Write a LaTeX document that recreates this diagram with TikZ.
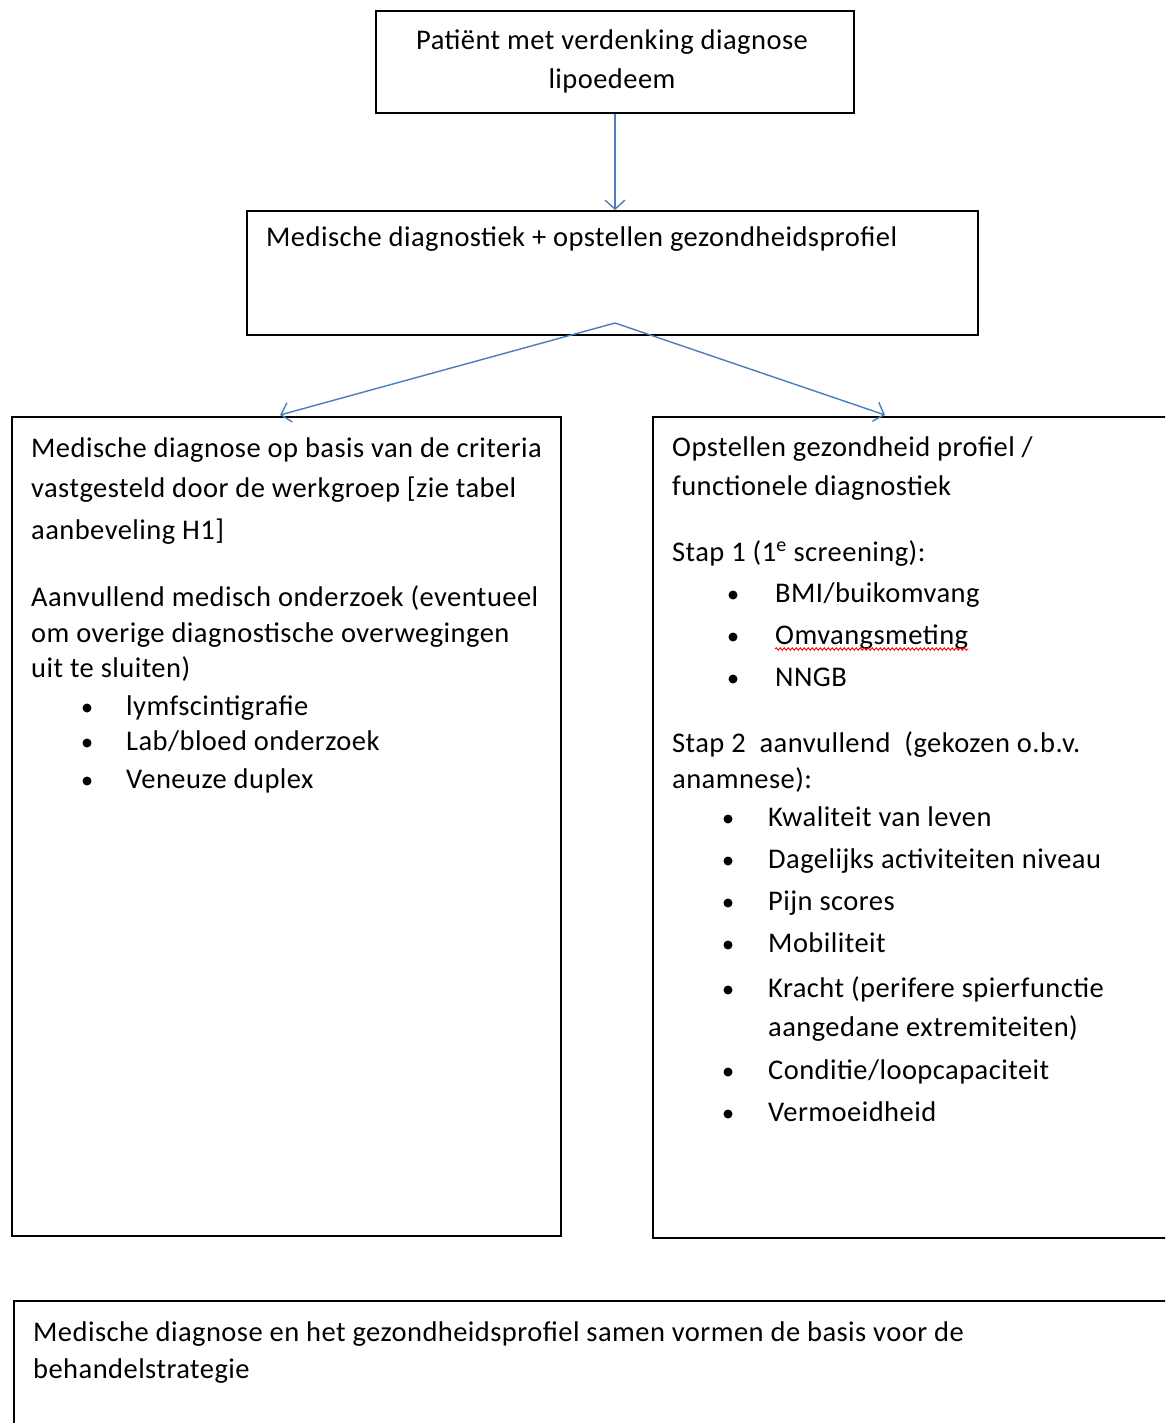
\documentclass[tikz,border=0pt]{standalone}
\usepackage{fontspec}
\setmainfont[LetterSpace=1.6]{Carlito}
\usetikzlibrary{arrows.meta,decorations.pathmorphing}
\definecolor{arrowblue}{HTML}{4A7EBB}
\begin{document}
\begin{tikzpicture}[x=1pt,y=-1pt,
  box/.style={draw=black,line width=1.8pt,inner sep=0pt,anchor=north west},
  txt/.style={anchor=base west,inner sep=0pt,font=\fontsize{28.5}{34}\selectfont},
  ctxt/.style={anchor=base,inner sep=0pt,font=\fontsize{28.5}{34}\selectfont},
  conn/.style={draw=arrowblue,line width=1.4pt,-{Straight Barb[length=9pt,width=20pt,line width=1.4pt]}},
  dot/.style={circle,fill=black,draw=none,inner sep=0pt,minimum size=9pt}
]
\useasboundingbox (0,0) rectangle (1165,1423);
\clip (0,0) rectangle (1165,1423);
\fill[white] (0,0) rectangle (1165,1423);

% boxes
\node[box,minimum width=478pt,minimum height=102pt] (start) at (375,10) {};
\node[box,minimum width=731pt,minimum height=124pt] (diag) at (246,210) {};
\node[box,minimum width=549pt,minimum height=819pt] (med) at (11,416) {};
\node[box,minimum width=600pt,minimum height=821pt] (prof) at (652,416) {};
\node[box,minimum width=1250pt,minimum height=250pt] (basis) at (13,1300) {};

% top box text
\node[ctxt] (s1) at (612,50) {Patiënt met verdenking diagnose};
\node[ctxt] (s2) at (612,89) {lipoedeem};

% second box text
\node[txt] (d1) at (266,247) {Medische diagnostiek + opstellen gezondheidsprofiel};

% left box text
\node[txt] (m1) at (31,457) {Medische diagnose op basis van de criteria};
\node[txt] (m2) at (31,497) {vastgesteld door de werkgroep [zie tabel};
\node[txt] (m3) at (31,539) {aanbeveling H1]};
\node[txt] (m4) at (31,606) {Aanvullend medisch onderzoek (eventueel};
\node[txt] (m5) at (31,642) {om overige diagnostische overwegingen};
\node[txt] (m6) at (31,677) {uit te sluiten)};
\node[dot] (mb1) at (87,708) {};
\node[txt] (ml1) at (126,715) {lymfscintigrafie};
\node[dot] (mb2) at (87,743) {};
\node[txt] (ml2) at (126,750) {Lab/bloed onderzoek};
\node[dot] (mb3) at (87,781) {};
\node[txt] (ml3) at (126,788) {Veneuze duplex};

% right box text
\node[txt] (p1) at (672,456) {Opstellen gezondheid profiel /};
\node[txt] (p2) at (672,495) {functionele diagnostiek};
\node[txt] (p3) at (672,561) {Stap 1 (1\textsuperscript{e} screening):};
\node[dot] (pb1) at (733,595) {};
\node[txt] (pl1) at (775,602) {BMI/buikomvang};
\node[dot] (pb2) at (733,637) {};
\node[txt] (pl2) at (775,644) {Omvangsmeting};
\draw[red,line width=0.9pt,decorate,decoration={snake,amplitude=1.2pt,segment length=4pt}]
  ([yshift=-5pt]pl2.base west) -- ([yshift=-5pt]pl2.base east);
\node[dot] (pb3) at (733,679) {};
\node[txt] (pl3) at (775,686) {NNGB};
\node[txt] (p4) at (672,752) {Stap 2\ \ aanvullend\ \ (gekozen o.b.v.};
\node[txt] (p5) at (672,788) {anamnese):};
\node[dot] (qb1) at (728,819) {};
\node[txt] (ql1) at (768,826) {Kwaliteit van leven};
\node[dot] (qb2) at (728,861) {};
\node[txt] (ql2) at (768,868) {Dagelijks activiteiten niveau};
\node[dot] (qb3) at (728,903) {};
\node[txt] (ql3) at (768,910) {Pijn scores};
\node[dot] (qb4) at (728,945) {};
\node[txt] (ql4) at (768,952) {Mobiliteit};
\node[dot] (qb5) at (728,990) {};
\node[txt] (ql5) at (768,997) {Kracht (perifere spierfunctie};
\node[txt] (ql5b) at (768,1036) {aangedane extremiteiten)};
\node[dot] (qb6) at (728,1072) {};
\node[txt] (ql6) at (768,1079) {Conditie/loopcapaciteit};
\node[dot] (qb7) at (728,1114) {};
\node[txt] (ql7) at (768,1121) {Vermoeidheid};

% bottom box text
\node[txt] (e1) at (33,1341) {Medische diagnose en het gezondheidsprofiel samen vormen de basis voor de};
\node[txt] (e2) at (33,1378) {behandelstrategie};

% connectors
\coordinate (apex) at (615,323);
\coordinate (tipL) at (280,415);
\coordinate (tipR) at (885,415);
\draw[conn] (start.south -| 615,0) -- (diag.north -| 615,0);
\draw[conn] (apex) -- (tipL);
\draw[conn] (apex) -- (tipR);
\end{tikzpicture}
\end{document}
